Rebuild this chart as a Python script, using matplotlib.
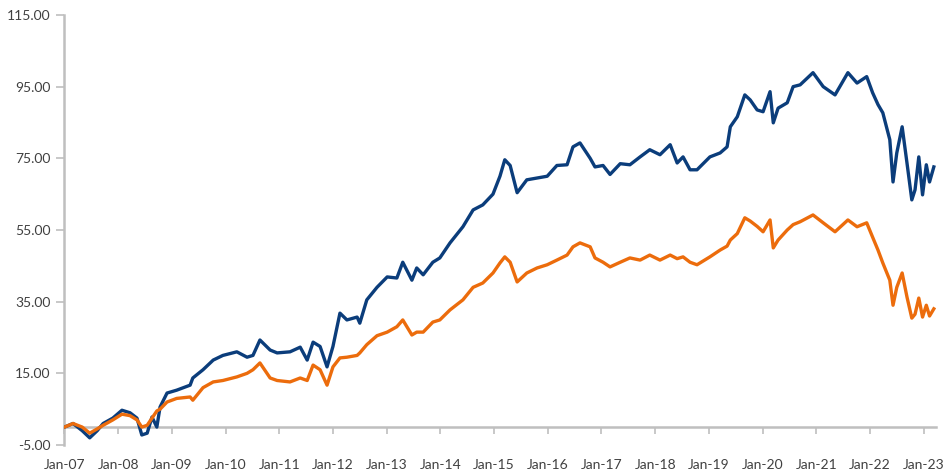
import matplotlib.pyplot as plt
import numpy as np

# values (time in decimal years)
years = [
    2007.00, 2007.16, 2007.33, 2007.47, 2007.61, 2007.72, 2007.90, 2008.07, 2008.22, 2008.35,
    2008.44, 2008.54, 2008.63, 2008.72, 2008.78, 2008.91, 2009.09, 2009.34, 2009.39, 2009.58,
    2009.77, 2009.95, 2010.21, 2010.40, 2010.51, 2010.64, 2010.83, 2010.96, 2011.20, 2011.39,
    2011.52, 2011.63, 2011.76, 2011.89, 2012.00, 2012.13, 2012.26, 2012.45, 2012.50, 2012.63,
    2012.82, 2013.01, 2013.19, 2013.30, 2013.47, 2013.56, 2013.68, 2013.86, 2013.99, 2014.18,
    2014.42, 2014.61, 2014.79, 2014.98, 2015.11, 2015.20, 2015.30, 2015.43, 2015.61, 2015.80,
    2015.99, 2016.17, 2016.36, 2016.47, 2016.60, 2016.79, 2016.88, 2017.03, 2017.16, 2017.35,
    2017.53, 2017.72, 2017.90, 2018.09, 2018.28, 2018.41, 2018.52, 2018.65, 2018.78, 2019.02,
    2019.21, 2019.34, 2019.40, 2019.53, 2019.67, 2019.77, 2019.90, 2020.01, 2020.14, 2020.20,
    2020.29, 2020.46, 2020.57, 2020.70, 2020.94, 2021.13, 2021.35, 2021.59, 2021.76, 2021.94,
    2022.05, 2022.15, 2022.24, 2022.37, 2022.43, 2022.50, 2022.60, 2022.69, 2022.78, 2022.84,
    2022.91, 2022.98, 2023.05, 2023.11, 2023.19,
]

blue = [
    0.0, 1.0, -1.0, -3.0, -1.0, 1.0, 2.5, 4.7, 4.0, 2.5,
    -2.2, -1.7, 2.8, 0.0, 5.6, 9.5, 10.3, 11.7, 13.7, 16.0,
    18.7, 20.0, 21.0, 19.5, 20.0, 24.3, 21.5, 20.7, 21.0, 22.3,
    18.7, 23.7, 22.5, 16.8, 22.5, 31.8, 29.9, 30.7, 29.0, 35.5,
    39.0, 41.9, 41.6, 46.0, 41.0, 44.4, 42.5, 46.0, 47.2, 51.4,
    55.9, 60.6, 62.0, 65.0, 70.0, 74.6, 73.0, 65.4, 69.0, 69.5,
    70.0, 73.0, 73.2, 78.2, 79.3, 75.0, 72.6, 73.0, 70.5, 73.5,
    73.2, 75.4, 77.4, 76.0, 78.8, 73.7, 75.4, 71.8, 71.8, 75.4,
    76.5, 78.2, 83.8, 86.6, 92.7, 91.3, 88.5, 88.0, 93.6, 84.9,
    89.0, 90.5, 95.0, 95.5, 98.9, 95.0, 92.7, 98.9, 96.0, 97.8,
    93.3, 90.0, 87.7, 80.2, 68.4, 76.5, 83.8, 73.7, 63.4, 66.2,
    75.4, 64.8, 73.2, 68.4, 72.6,
]

orange = [
    0.0, 1.0, 0.0, -1.7, -0.5, 0.5, 2.0, 3.6, 3.2, 2.0,
    0.0, 0.5, 2.5, 4.5, 5.0, 7.0, 8.0, 8.4, 7.5, 11.0,
    12.6, 13.0, 14.0, 15.0, 16.0, 17.9, 13.7, 13.0, 12.6, 13.7,
    13.0, 17.3, 16.0, 11.7, 16.8, 19.3, 19.5, 20.0, 20.7, 23.0,
    25.5, 26.5, 28.0, 29.9, 25.7, 26.5, 26.5, 29.3, 29.9, 32.7,
    35.5, 39.0, 40.2, 43.0, 45.8, 47.5, 46.0, 40.5, 43.0, 44.4,
    45.3, 46.6, 48.0, 50.3, 51.4, 50.3, 47.2, 46.0, 44.7, 46.0,
    47.2, 46.6, 48.0, 46.6, 48.0, 47.0, 47.5, 46.0, 45.3, 47.5,
    49.4, 50.5, 52.2, 54.0, 58.4, 57.5, 56.0, 54.5, 57.8, 50.0,
    52.2, 55.0, 56.5, 57.3, 59.2, 57.0, 54.5, 57.8, 55.9, 57.0,
    53.0, 49.4, 45.8, 41.0, 34.0, 39.0, 43.0, 36.3, 30.4, 31.5,
    36.0, 30.7, 34.0, 31.0, 33.0,
]

tick_years = list(range(2007, 2024))
tick_labels = ["Jan-%02d" % (y % 100) for y in tick_years]
y_ticks = [-5, 15, 35, 55, 75, 95, 115]

plt.rcParams["font.family"] = ["Lato", "DejaVu Sans"]
text_color = "#404040"
axis_color = "#BFBFBF"

fig = plt.figure(figsize=(9.44, 4.71), dpi=100)
ax = fig.add_axes([0.0683, 0.0552, 0.9232, 0.913])

ax.plot(years, blue, color="#0B3D7B", lw=2.4, solid_joinstyle="round")
ax.plot(years, orange, color="#EC6C0C", lw=2.4, solid_joinstyle="round")

ax.set_xlim(2007, 2023.23)
ax.set_ylim(-5, 115)

# x axis sits at zero, labels stay at the bottom of the plot
ax.spines["bottom"].set_position(("data", 0))
for side in ["top", "right"]:
    ax.spines[side].set_visible(False)
for side in ["bottom", "left"]:
    ax.spines[side].set_color(axis_color)
    ax.spines[side].set_linewidth(1.8)
    ax.spines[side].set_zorder(0)

ax.set_xticks(tick_years)
ax.tick_params(axis="x", direction="out", length=5, width=1.2, color=axis_color,
               labelbottom=False)
for y, lab in zip(tick_years, tick_labels):
    ax.text(y, -0.047, lab, transform=ax.get_xaxis_transform(), ha="center",
            va="center", fontsize=10, color=text_color)

ax.set_yticks(y_ticks)
ax.set_yticklabels(["%.2f" % v for v in y_ticks])
ax.tick_params(axis="y", direction="out", length=6, width=1.2, color=axis_color,
               labelsize=10, labelcolor=text_color, pad=4)

fig.savefig("out.png", dpi=100)
